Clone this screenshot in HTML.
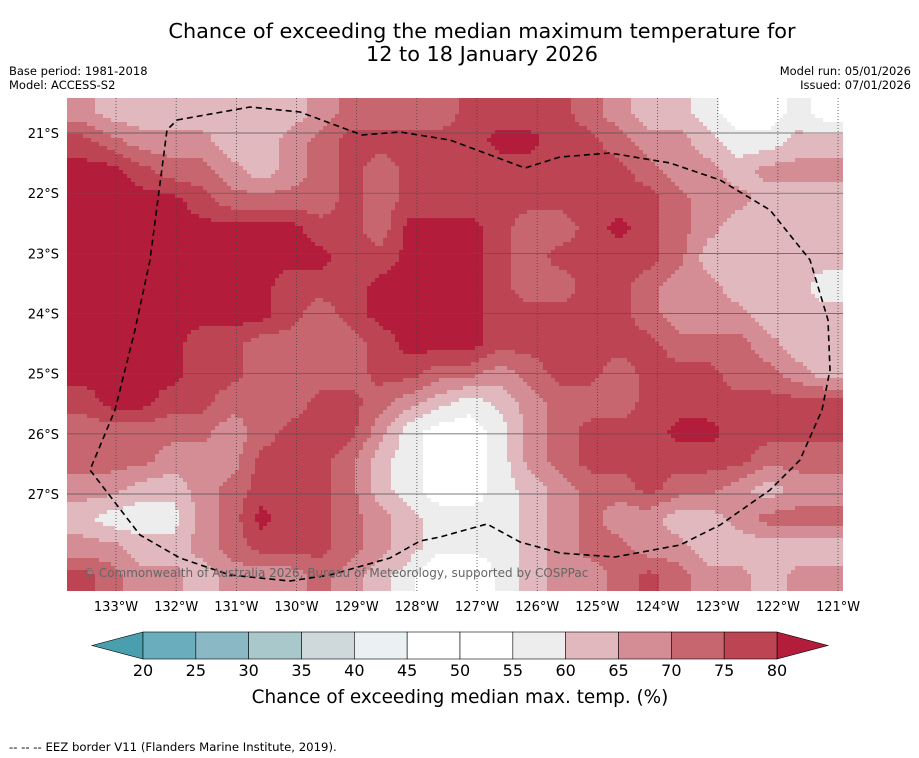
<!DOCTYPE html>
<html><head><meta charset="utf-8">
<style>
body{margin:0;background:#fff;font-family:"Liberation Sans","DejaVu Sans",sans-serif;}
svg{display:block}
</style></head>
<body>
<svg id="chart" width="919" height="758" viewBox="0 0 919 758" xmlns="http://www.w3.org/2000/svg" font-family="DejaVu Sans, Liberation Sans, sans-serif">
<text x="482" y="38" font-size="20.8" text-anchor="middle">Chance of exceeding the median maximum temperature for</text>
<text x="482" y="61" font-size="20.8" text-anchor="middle">12 to 18 January 2026</text>
<text x="9" y="75" font-size="11.5">Base period: 1981-2018</text>
<text x="9" y="89" font-size="11.5">Model: ACCESS-S2</text>
<text x="911" y="75" font-size="11.5" text-anchor="end">Model run: 05/01/2026</text>
<text x="911" y="89" font-size="11.5" text-anchor="end">Issued: 07/01/2026</text>
<defs>
<clipPath id="mapclip"><rect x="67" y="98" width="776" height="493"/></clipPath>
</defs>
<g id="map" clip-path="url(#mapclip)">
<g id="cells"></g>
<g id="grid"></g>
<polyline id="eez" fill="none" stroke="#000" stroke-width="1.6" stroke-dasharray="6,4"
points="177,120 250,107 300,112 362,135 400,132 450,140 525,168 560,157 610,153 670,163 720,180 770,210 810,260 828,320 830,370 822,410 800,460 770,490 720,525 680,545 615,557 560,553 520,542 487,524 440,537 420,541 390,558 330,575 290,581 230,575 180,558 140,535 90,470 115,410 135,330 150,260 167,130 177,120"/>
<text x="83" y="577" font-size="12" fill="#666">© Commonwealth of Australia 2026, Bureau of Meteorology, supported by COSPPac</text>
</g>
<g id="axes"></g>
<g id="colorbar"></g>
<text x="460" y="703" font-size="18.4" text-anchor="middle">Chance of exceeding median max. temp. (%)</text>
<text x="9" y="751" font-size="11.7">--  --  -- EEZ border V11 (Flanders Marine Institute, 2019).</text>
</svg>
<script>
const lonTicks=[133,132,131,130,129,128,127,126,125,124,123,122,121];
const latTicks=[21,22,23,24,25,26,27];
const levels=[20,25,30,35,40,45,50,55,60,65,70,75,80];
const levelColors=["#6aaebd","#8ab9c5","#a9c8cc","#cfd9dc","#ebf0f2","#ffffff","#ffffff","#eeedee","#e1b8bd","#d48c95","#c8666f","#bd4453"];
const underColor="#4a9fae", overColor="#b31c3a";
const gridRows=[
[67,62,62,62,62,62,62,62,67,72,72,72,72,77,77,77,77,72,67,62,62,57,52,52,57,52],
[77,72,67,67,67,62,62,67,72,77,77,77,77,77,82,82,77,77,72,67,67,62,57,57,62,62],
[82,82,77,72,72,67,62,67,72,77,72,77,77,77,77,77,77,77,77,72,67,67,62,67,67,67],
[82,82,82,82,77,72,72,72,72,77,72,77,77,77,77,77,77,77,77,77,72,67,67,62,62,62],
[82,82,82,82,82,82,82,82,77,77,72,82,82,82,77,72,72,77,82,77,72,67,62,62,62,62],
[82,82,82,82,82,82,82,82,82,77,77,82,82,82,77,72,77,77,77,77,72,62,62,62,62,62],
[82,82,82,82,82,82,82,77,77,77,82,82,82,82,77,72,72,77,77,72,67,67,62,62,62,57],
[82,82,82,82,82,82,82,77,72,77,82,82,82,82,77,77,77,77,77,72,67,67,67,62,62,62],
[82,82,82,82,77,77,72,72,72,72,77,82,82,82,77,77,77,77,77,77,72,72,72,67,62,62],
[82,82,82,82,77,77,72,72,72,72,77,77,72,72,67,72,77,77,72,77,77,77,72,72,67,62],
[77,82,82,77,77,72,72,72,77,77,72,67,62,57,62,67,72,72,72,77,77,77,77,77,77,77],
[72,72,72,72,72,67,72,77,77,77,67,57,52,52,57,67,72,77,77,77,82,82,77,77,77,77],
[72,72,72,67,67,67,77,77,77,72,62,57,52,52,57,67,72,77,77,77,77,77,77,72,72,72],
[67,67,62,62,67,72,77,77,77,72,62,57,52,52,57,62,67,72,72,77,72,72,67,62,67,67],
[62,57,57,57,67,72,82,77,77,72,67,62,57,57,57,62,67,72,67,67,62,62,67,72,72,72],
[67,67,62,62,67,72,77,77,77,72,67,62,57,57,57,62,67,72,72,67,67,62,62,62,62,62],
[77,72,67,67,62,67,67,67,72,67,62,57,47,47,57,62,67,67,72,77,72,67,67,62,67,67]
];
const NS="http://www.w3.org/2000/svg";
const mapX0=67,mapY0=98,mapW=776,mapH=493;
function xLon(l){return 116+(133-l)*60.17;}
function yLat(l){return 133+(l-21)*60.17;}
function colorFor(v){
  if(v<levels[0])return underColor;
  if(v>=levels[levels.length-1])return overColor;
  for(let i=0;i<levels.length-1;i++){if(v>=levels[i]&&v<levels[i+1])return levelColors[i];}
  return overColor;
}
function mk(tag,attrs,parent){const e=document.createElementNS(NS,tag);for(const k in attrs)e.setAttribute(k,attrs[k]);parent.appendChild(e);return e;}
const nR=gridRows.length,nC=gridRows[0].length;
const cw=mapW/nC,ch=mapH/nR;
// bilinear interpolation of the gridded field at pixel (x,y)
function valueAt(x,y){
  let fc=(x-mapX0)/cw-0.5, fr=(y-mapY0)/ch-0.5;
  fc=Math.max(0,Math.min(nC-1,fc)); fr=Math.max(0,Math.min(nR-1,fr));
  const c0=Math.floor(fc), r0=Math.floor(fr);
  const c1=Math.min(nC-1,c0+1), r1=Math.min(nR-1,r0+1);
  const tx=fc-c0, ty=fr-r0;
  const a=gridRows[r0][c0]*(1-tx)+gridRows[r0][c1]*tx;
  const b=gridRows[r1][c0]*(1-tx)+gridRows[r1][c1]*tx;
  return a*(1-ty)+b*ty;
}
const cells=document.getElementById('cells');
const step=4;
for(let y=mapY0;y<mapY0+mapH;y+=step){
  let runStart=mapX0, runColor=null;
  for(let x=mapX0;x<=mapX0+mapW;x+=step){
    const col = x<mapX0+mapW ? colorFor(valueAt(x+step/2,y+step/2)) : null;
    if(col!==runColor){
      if(runColor!==null){
        const rc=mk('rect',{x:runStart,y:y,width:x-runStart+0.5,height:step+0.5,fill:runColor},cells);
        
        
      }
      runStart=x; runColor=col;
    }
  }
}
const grid=document.getElementById('grid');
lonTicks.forEach(l=>{
  const ln=mk('line',{x1:xLon(l),x2:xLon(l),y1:mapY0,y2:mapY0+mapH,stroke:'#444','stroke-width':0.8,'stroke-dasharray':'1,2'},grid);
  
  
});
latTicks.forEach(l=>{
  const ln=mk('line',{x1:mapX0,x2:mapX0+mapW,y1:yLat(l),y2:yLat(l),stroke:'#555','stroke-width':0.7},grid);
  
  
});
const axes=document.getElementById('axes');
lonTicks.forEach(l=>{
  const t=mk('text',{x:xLon(l),y:611,'font-size':13,'text-anchor':'middle'},axes);
  t.textContent=l+'°W';
  
  
});
latTicks.forEach(l=>{
  const t=mk('text',{x:59,y:yLat(l)+5,'font-size':13,'text-anchor':'end'},axes);
  t.textContent=l+'°S';
  
  
});
const cb=document.getElementById('colorbar');
const cbX0=143,cbX1=777,cbY=632,cbH=27;
function xCb(v){return cbX0+(v-levels[0])/(levels[levels.length-1]-levels[0])*(cbX1-cbX0);}
const lt=mk('polygon',{points:`${cbX0},${cbY} 92,${cbY+cbH/2} ${cbX0},${cbY+cbH}`,fill:underColor,stroke:'#000','stroke-width':0.6},cb);


const rt=mk('polygon',{points:`${cbX1},${cbY} 828,${cbY+cbH/2} ${cbX1},${cbY+cbH}`,fill:overColor,stroke:'#000','stroke-width':0.6},cb);


for(let i=0;i<levels.length-1;i++){
  const r=mk('rect',{x:xCb(levels[i]),y:cbY,width:xCb(levels[i+1])-xCb(levels[i]),height:cbH,fill:levelColors[i],stroke:'#000','stroke-width':0.6},cb);
  
  
}
levels.forEach(v=>{
  const t=mk('text',{x:xCb(v),y:676,'font-size':16,'text-anchor':'middle'},cb);
  t.textContent=v;
  
  
});
</script>
</body></html>
